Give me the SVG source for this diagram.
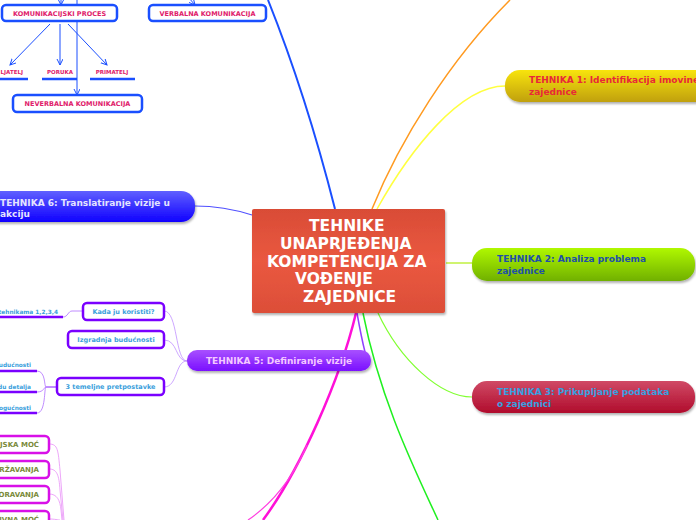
<svg xmlns="http://www.w3.org/2000/svg" width="696" height="520" viewBox="0 0 696 520">
<defs>
<linearGradient id="gC" x1="0" y1="0" x2="0" y2="1"><stop offset="0" stop-color="#d94c36"/><stop offset="0.5" stop-color="#ea5840"/><stop offset="1" stop-color="#dc4e38"/></linearGradient>
<linearGradient id="g6" x1="0" y1="0" x2="0" y2="1"><stop offset="0" stop-color="#6060ff"/><stop offset="1" stop-color="#1000ff"/></linearGradient>
<linearGradient id="g1" x1="0" y1="0" x2="0" y2="1"><stop offset="0" stop-color="#f8e410"/><stop offset="1" stop-color="#c0a008"/></linearGradient>
<linearGradient id="g2" x1="0" y1="0" x2="0" y2="1"><stop offset="0" stop-color="#b0f800"/><stop offset="1" stop-color="#70b000"/></linearGradient>
<linearGradient id="g3" x1="0" y1="0" x2="0" y2="1"><stop offset="0" stop-color="#d04a66"/><stop offset="1" stop-color="#b00c2c"/></linearGradient>
<linearGradient id="g5" x1="0" y1="0" x2="0" y2="1"><stop offset="0" stop-color="#a850ff"/><stop offset="1" stop-color="#7a10ff"/></linearGradient>
<filter id="sh" x="-10%" y="-20%" width="120%" height="160%"><feDropShadow dx="1" dy="2" stdDeviation="1.2" flood-color="#000" flood-opacity="0.3"/></filter>
<marker id="ar" markerWidth="7" markerHeight="7" refX="6" refY="3" orient="auto" markerUnits="userSpaceOnUse"><path d="M0,0 L6,3 L0,6" fill="none" stroke="#1a4fff" stroke-width="1"/></marker>
</defs>
<style>
text{font-family:"DejaVu Sans","Liberation Sans",sans-serif;font-weight:bold}
.big{font-size:15.5px;fill:#fff}
.t{font-size:9px}
.s{font-size:6.5px}
.bbox{fill:#fff;stroke:#1a4fff;stroke-width:2.5}
.pbox{fill:#fff;stroke:#7a00ff;stroke-width:2.5}
.mbox{fill:#fff;stroke:#d810e8;stroke-width:2.5}
.btxt{fill:#e0206a}
.ptxt{fill:#3aa0dc}
.mtxt{fill:#7a8a3a}
.ul{stroke-width:2.5;fill:none}
.c{fill:none}
</style>
<g id="connectors">
<path class="c" d="M335,209 C320,150 300,80 268,0" stroke="#1a4fff" stroke-width="2"/>
<path class="c" d="M372,209 C400,140 450,60 510,0" stroke="#ff9a20" stroke-width="1.5"/>
<path class="c" d="M377,209 C410,150 460,86 505,86" stroke="#ffff40" stroke-width="1.5"/>
<path class="c" d="M446,263 L472,263" stroke="#c0f040" stroke-width="1.5"/>
<path class="c" d="M378,313 C400,360 440,397 472,397" stroke="#80ff30" stroke-width="1.2"/>
<path class="c" d="M363,313 C380,400 415,470 438,520" stroke="#20f020" stroke-width="1.5"/>
<path class="c" d="M357,313 C360,330 362,340 365,352" stroke="#9040ff" stroke-width="1.5"/>
<path class="c" d="M356,313 C340,380 300,470 263,520" stroke="#ff10d8" stroke-width="2.5"/>
<path class="c" d="M307,445 C292,480 270,505 248,520" stroke="#ff40e0" stroke-width="1.2"/>
<path class="c" d="M252,215 C230,208 215,206 195,206" stroke="#5050ff" stroke-width="1.2"/>
<path class="c" d="M187,361 C175,361 178,311 164,311" stroke="#c090ff" stroke-width="0.8"/>
<path class="c" d="M187,361 C175,361 178,340 164,340" stroke="#c090ff" stroke-width="0.8"/>
<path class="c" d="M187,361 C175,361 178,387 164,387" stroke="#c090ff" stroke-width="0.8"/>
<path class="c" d="M83,311 L72,311 C68,311 68,317 63,317" stroke="#b070ff" stroke-width="0.8"/>
<path class="c" d="M57,387 L46,387 C44,387 46,371 37,371" stroke="#b070ff" stroke-width="0.8"/>
<path class="c" d="M57,387 L46,387 C44,387 44,392 37,392" stroke="#b070ff" stroke-width="0.8"/>
<path class="c" d="M57,387 L46,387 C44,387 46,413 37,413" stroke="#b070ff" stroke-width="0.8"/>
<path class="c" d="M49,444 C58,444 58,450 60,470 L64,520" stroke="#e890f8" stroke-width="0.8"/>
<path class="c" d="M49,469 C57,469 59,475 60,490 L63,520" stroke="#e890f8" stroke-width="0.8"/>
<path class="c" d="M49,494 C57,494 60,500 61,510 L62,520" stroke="#e890f8" stroke-width="0.8"/>
<path class="c" d="M49,519 C55,519 58,520 60,520" stroke="#e890f8" stroke-width="0.8"/>
<path class="c" d="M61,-2 L61,5" stroke="#1a4fff" stroke-width="1" marker-end="url(#ar)"/>
<path class="c" d="M189,-2 L195,5" stroke="#1a4fff" stroke-width="1" marker-end="url(#ar)"/>
<path class="c" d="M50,24 L10,65" stroke="#1a4fff" stroke-width="1" marker-end="url(#ar)"/>
<path class="c" d="M60,24 L60,65" stroke="#1a4fff" stroke-width="1" marker-end="url(#ar)"/>
<path class="c" d="M68,24 L107,65" stroke="#1a4fff" stroke-width="1" marker-end="url(#ar)"/>
<path class="c" d="M77,0 L77,95" stroke="#1a4fff" stroke-width="1" marker-end="url(#ar)"/>
</g>
<g id="center">
<rect x="252" y="209" width="193" height="104" rx="2" fill="url(#gC)" filter="url(#sh)"/>
<text class="big" x="309" y="231">TEHNIKE</text>
<text class="big" x="280" y="248.7">UNAPRJEĐENJA</text>
<text class="big" x="267" y="266.5">KOMPETENCIJA ZA</text>
<text class="big" x="295" y="284">VOĐENJE</text>
<text class="big" x="303" y="302">ZAJEDNICE</text>
</g>
<g id="t6">
<rect x="-30" y="191" width="225" height="31" rx="14" fill="url(#g6)" filter="url(#sh)"/>
<text class="t" x="0" y="206" fill="#e4e4ff">TEHNIKA 6: Translatiranje vizije u</text>
<text class="t" x="0" y="217" fill="#e4e4ff">akciju</text>
</g>
<g id="t1">
<rect x="505" y="70" width="215" height="32" rx="15" fill="url(#g1)" filter="url(#sh)"/>
<text class="t" x="529" y="83" fill="#e82838">TEHNIKA 1: Identifikacija imovine</text>
<text class="t" x="529" y="95" fill="#e82838">zajednice</text>
</g>
<g id="t2">
<rect x="472" y="248" width="223" height="33" rx="15" fill="url(#g2)" filter="url(#sh)"/>
<text class="t" x="497" y="262" fill="#2050a8">TEHNIKA 2: Analiza problema</text>
<text class="t" x="497" y="274" fill="#2050a8">zajednice</text>
</g>
<g id="t3">
<rect x="472" y="381" width="223" height="32" rx="15" fill="url(#g3)" filter="url(#sh)"/>
<text class="t" x="497" y="395" fill="#38a0e0">TEHNIKA 3: Prikupljanje podataka</text>
<text class="t" x="497" y="407" fill="#38a0e0">o zajednici</text>
</g>
<g id="t5">
<rect x="187" y="350" width="184" height="21" rx="10" fill="url(#g5)" filter="url(#sh)"/>
<text class="t" x="279" y="364" text-anchor="middle" fill="#f4c8ff">TEHNIKA 5: Definiranje vizije</text>
</g>
<g id="kada">
<rect class="pbox" x="83" y="303" width="81" height="17" rx="4"/>
<text class="s ptxt" x="123.5" y="314" text-anchor="middle">Kada ju koristiti?</text>
</g>
<g id="izgradnja">
<rect class="pbox" x="68" y="331" width="96" height="17" rx="4"/>
<text class="s ptxt" x="116" y="342" text-anchor="middle">Izgradnja budućnosti</text>
</g>
<g id="temeljne">
<rect class="pbox" x="57" y="378" width="107" height="17" rx="4"/>
<text class="s ptxt" x="110.5" y="389" text-anchor="middle">3 temeljne pretpostavke</text>
</g>
<g id="tehnikama">
<text class="s ptxt" x="58" y="314" text-anchor="end" style="font-size:5.8px">tehnikama 1,2,3,4</text>
<path class="ul" d="M0,317 L63,317" stroke="#7a00ff"/>
</g>
<g id="p1">
<text class="s ptxt" x="31" y="367" text-anchor="end" style="font-size:5.8px">budućnosti</text>
<path class="ul" d="M0,371 L37,371" stroke="#7a00ff"/>
</g>
<g id="p2">
<text class="s ptxt" x="31" y="389" text-anchor="end" style="font-size:5.8px">du detalja</text>
<path class="ul" d="M0,392 L37,392" stroke="#7a00ff"/>
</g>
<g id="p3">
<text class="s ptxt" x="31" y="410" text-anchor="end" style="font-size:5.8px">ogućnosti</text>
<path class="ul" d="M0,413 L37,413" stroke="#7a00ff"/>
</g>
<g id="m1">
<rect class="mbox" x="-10" y="436" width="59" height="17" rx="4"/>
<text class="s mtxt" x="39" y="447" text-anchor="end" style="font-size:7px">IJSKA MOĆ</text>
</g>
<g id="m2">
<rect class="mbox" x="-10" y="461" width="59" height="17" rx="4"/>
<text class="s mtxt" x="39" y="472" text-anchor="end" style="font-size:7px">RŽAVANJA</text>
</g>
<g id="m3">
<rect class="mbox" x="-10" y="486" width="59" height="17" rx="4"/>
<text class="s mtxt" x="39" y="497" text-anchor="end" style="font-size:7px">ORAVANJA</text>
</g>
<g id="m4">
<rect class="mbox" x="-10" y="511" width="59" height="17" rx="4"/>
<text class="s mtxt" x="39" y="522" text-anchor="end" style="font-size:7px">TIVNA MOĆ</text>
</g>
<g id="komproces">
<rect class="bbox" x="2" y="5" width="115" height="16" rx="4"/>
<text class="s btxt" x="59.5" y="15.5" text-anchor="middle">KOMUNIKACIJSKI PROCES</text>
</g>
<g id="verbalna">
<rect class="bbox" x="149" y="5" width="117" height="16" rx="4"/>
<text class="s btxt" x="207.5" y="15.5" text-anchor="middle">VERBALNA KOMUNIKACIJA</text>
</g>
<g id="neverbalna">
<rect class="bbox" x="13" y="95" width="129" height="17" rx="4"/>
<text class="s btxt" x="77.5" y="106" text-anchor="middle">NEVERBALNA KOMUNIKACIJA</text>
</g>
<g id="posiljatelj">
<text class="s btxt" x="23" y="74" text-anchor="end" style="font-size:5.5px">LJATELJ</text>
<path class="ul" d="M0,79 L28,79" stroke="#1a4fff"/>
</g>
<g id="poruka">
<text class="s btxt" x="60" y="74" text-anchor="middle" style="font-size:5.5px">PORUKA</text>
<path class="ul" d="M42,79 L77,79" stroke="#1a4fff"/>
</g>
<g id="primatelj">
<text class="s btxt" x="112" y="74" text-anchor="middle" style="font-size:5.5px">PRIMATELJ</text>
<path class="ul" d="M90,79 L135,79" stroke="#1a4fff"/>
</g>
</svg>
